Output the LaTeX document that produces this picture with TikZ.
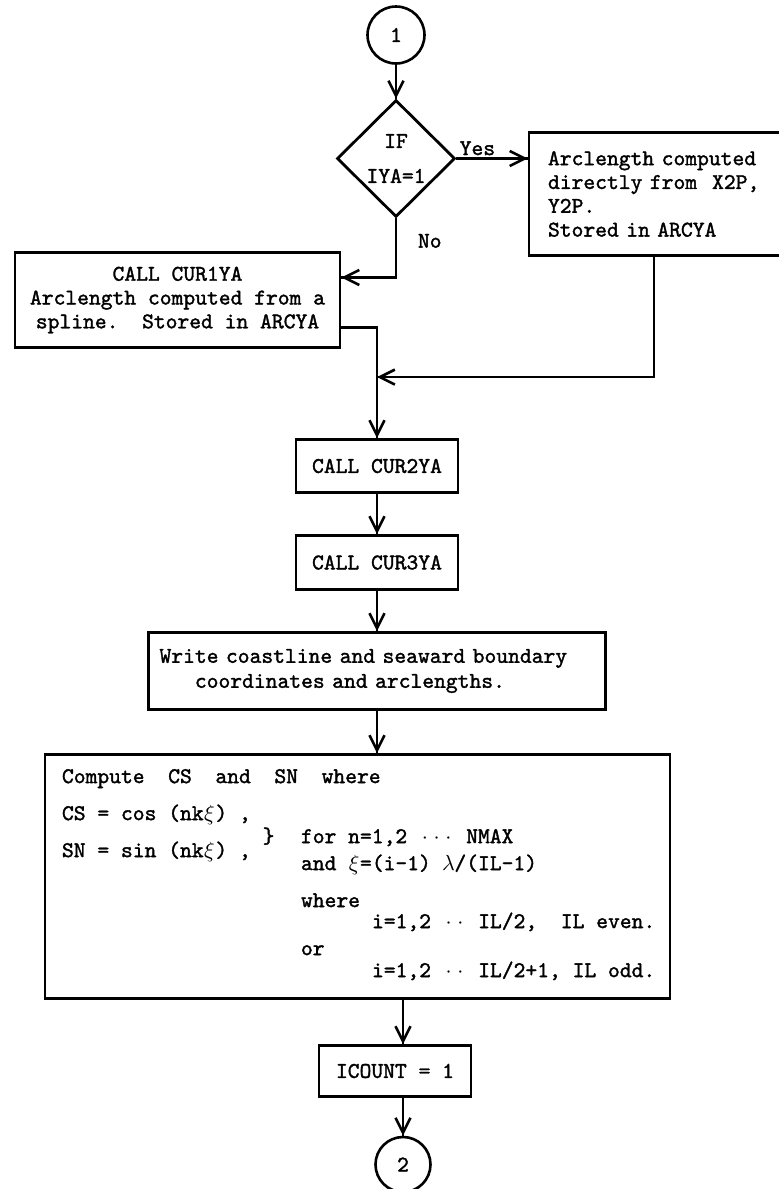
\documentclass[tikz,border=0pt]{standalone}
\usepackage{fontspec}
\setmonofont{lmmono10-regular}[Extension=.otf, FakeBold=1.5]
\usepackage{tikz}
\usetikzlibrary{arrows.meta,decorations.markings,shapes.geometric}
\newcommand{\flowfont}{\fontsize{11.24pt}{11.9pt}\selectfont\ttfamily}
\newcommand{\tch}[1]{\makebox[0.525em]{#1}}
\newcommand{\tdot}{\tch{$\cdot$}}
\tikzstyle{basic} = [rectangle, draw=black, line width=1.4pt]
\tikzstyle{connector} = [circle, draw=black, line width=1.3pt, inner sep=0pt]
\tikzstyle{decision} = [diamond, draw=black, line width=1.4pt, minimum width=59pt, minimum height=58.5pt, inner sep=0pt, align=center]
\tikzstyle{txt} = [anchor=base west, inner sep=0pt]

\begin{document}
\begin{tikzpicture}[node distance=50pt, font=\flowfont]
    \tikzset{flowptr/.style={line width=1.3pt, decoration={markings,mark=at position 1 with %
    {\arrow[line width=1.3pt]{Straight Barb[length=7.5pt,width=7.5pt]}}},postaction={decorate}}}
\useasboundingbox (0,0) rectangle (389pt,-594.5pt);
\node (c1) [connector, minimum size=28.5pt] at (198pt,-17.5pt) {1};
\node (ifd) [decision, below of=c1, yshift=-11.75pt] {IF\\[5.6pt]IYA=1};
\node (arc) [basic, right of=ifd, xshift=82.25pt, yshift=-17.75pt, text width=112.5pt, inner xsep=9.5pt, minimum height=61.5pt, align=left] {Arclength computed\\directly from~~X2P,\\Y2P.\\Stored in ARCYA};
\node (cur1) [basic, below of=ifd, xshift=-109.25pt, yshift=-20.75pt, minimum width=162.5pt, minimum height=47.5pt, align=center] {CALL CUR1YA\\Arclength computed from a\\spline.~~Stored in ARCYA};
\node (cur2) [basic, below of=ifd, xshift=-9.5pt, yshift=-103.75pt, minimum width=81pt, minimum height=26.5pt] {CALL CUR2YA};
\node (cur3) [basic, below of=cur2, yshift=1.75pt, minimum width=81pt, minimum height=27pt] {CALL CUR3YA};
\node (write) [basic, below of=cur3, yshift=-4.25pt, text width=217.5pt, inner xsep=5.5pt, minimum height=38.5pt, align=left] {Write coastline and seaward boundary\\[0.6pt]\hspace*{1.575em}coordinates and arclengths.};
\node (compute) [basic, below of=write, xshift=-9.75pt, yshift=-52.75pt, minimum width=312.5pt, minimum height=122pt] {};
\node (cmp1) [txt] at ([shift={(9pt,-15pt)}]compute.north west) {Compute~~CS~~and~~SN~~where};
\node (cmp2) [txt] at ([shift={(9pt,-33.5pt)}]compute.north west) {CS = cos (nk\tch{$\xi$}) ,};
\node (cmp3) [txt] at ([shift={(9pt,-52pt)}]compute.north west) {SN = sin (nk\tch{$\xi$}) ,};
\node (brace) [anchor=center, inner sep=0pt] at ([shift={(112.5pt,-41.5pt)}]compute.north west) {\}};
\node (cmp4) [txt] at ([shift={(128.5pt,-45pt)}]compute.north west) {for n=1,2 \tdot\tdot\tdot\ NMAX};
\node (cmp5) [txt] at ([shift={(128.5pt,-58.5pt)}]compute.north west) {and \tch{$\xi$}=(i-1) \tch{$\lambda$}/(IL-1)};
\node (cmp6) [txt] at ([shift={(128.5pt,-77pt)}]compute.north west) {where};
\node (cmp7) [txt] at ([shift={(164pt,-87.5pt)}]compute.north west) {i=1,2 \tdot\tdot\ IL/2,~~IL even.};
\node (cmp8) [txt] at ([shift={(128.5pt,-101pt)}]compute.north west) {or};
\node (cmp9) [txt] at ([shift={(164pt,-112pt)}]compute.north west) {i=1,2 \tdot\tdot\ IL/2+1, IL odd.};
\node (icount) [basic, below of=compute, xshift=18.75pt, yshift=-47.25pt, minimum width=76pt, minimum height=25.5pt] {ICOUNT = 1};
\node (c2) [connector, below of=icount, xshift=4pt, yshift=3.25pt, minimum size=27.5pt] {2};

\draw [flowptr] (c1) -- (ifd);
\draw [flowptr] (ifd.east) -- node[anchor=south west, pos=0, inner sep=1pt] {Yes} (ifd.east -| arc.west);
\draw [flowptr] (ifd.south) |- node[anchor=west, pos=0.19, xshift=7pt] {No} ([yshift=11.25pt]cur1.east);
\draw [flowptr] ([yshift=-13.75pt]cur1.east) -| (cur2.north);
\coordinate (join) at ([yshift=30.5pt]cur2.north);
\draw [flowptr] ([xshift=-3.25pt]arc.south) |- (join);
\draw [flowptr] (cur2) -- (cur3);
\draw [flowptr] (cur3) -- (write);
\draw [flowptr] (write) -- (write.south |- compute.north);
\draw [flowptr] (c2 |- compute.south) -- (c2 |- icount.north);
\draw [flowptr] (c2 |- icount.south) -- (c2);
\end{tikzpicture}
\end{document}
